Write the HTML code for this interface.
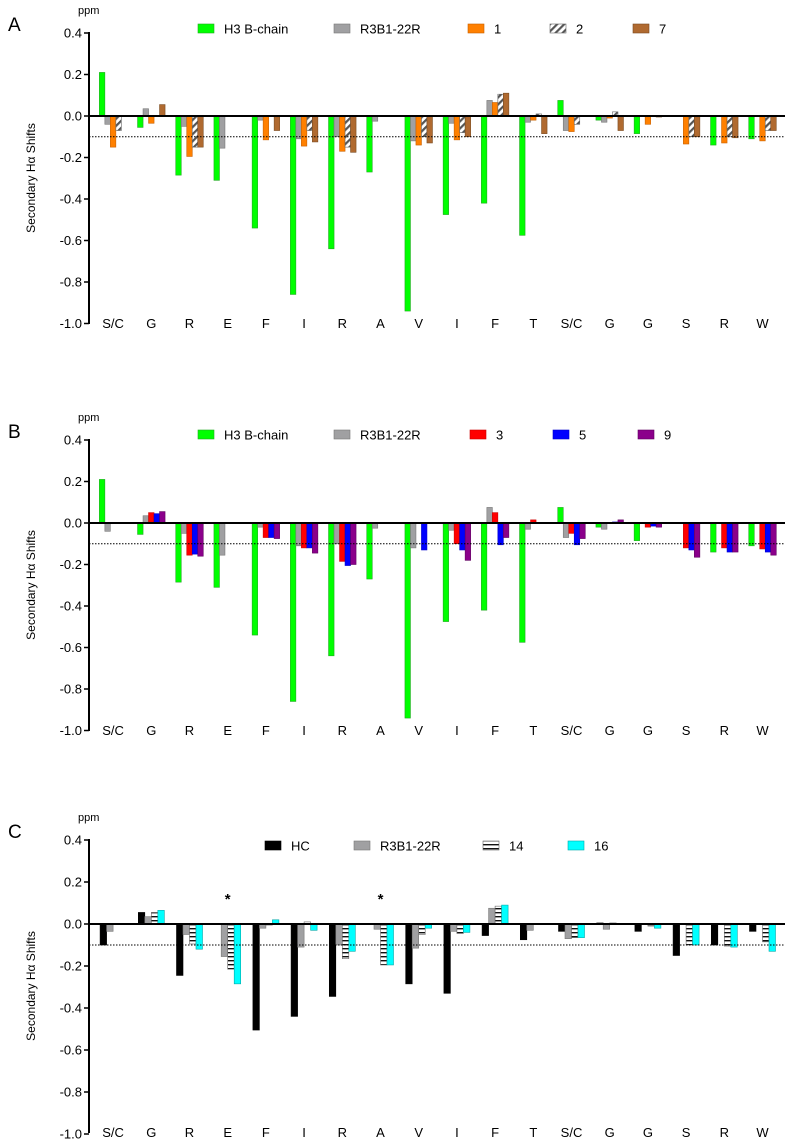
<!DOCTYPE html>
<html><head><meta charset="utf-8">
<style>
html,body{margin:0;padding:0;background:#fff;}
svg{display:block;font-family:"Liberation Sans",Arial,sans-serif;}
</style></head>
<body>
<svg id="chart" width="787" height="1142" viewBox="0 0 787 1142" xmlns="http://www.w3.org/2000/svg">
<defs>
<pattern id="hatchDiag" patternUnits="userSpaceOnUse" width="5" height="5" patternTransform="rotate(45)">
<rect width="5" height="5" fill="#fff"/><rect width="2.2" height="5" fill="#555"/>
</pattern>
<pattern id="hatchHoriz" patternUnits="userSpaceOnUse" width="4" height="4">
<rect width="4" height="4" fill="#fff"/><rect y="0" width="4" height="1.4" fill="#111"/>
</pattern>
</defs>
</svg>
<script>
const categories = ["S/C","G","R","E","F","I","R","A","V","I","F","T","S/C","G","G","S","R","W"];
const tickLabels = ["0.4","0.2","0.0","-0.2","-0.4","-0.6","-0.8","-1.0"];
const tickValues = [0.4,0.2,0,-0.2,-0.4,-0.6,-0.8,-1.0];
const h3Values   = [0.21,-0.055,-0.285,-0.31,-0.54,-0.86,-0.64,-0.27,-0.94,-0.475,-0.42,-0.575,0.075,-0.02,-0.085,0,-0.14,-0.11];
const r3bValues  = [-0.04,0.035,-0.05,-0.155,-0.02,-0.11,-0.1,-0.025,-0.12,-0.035,0.075,-0.03,-0.07,-0.03,0,0,0,0];
const c1Values   = [-0.15,-0.035,-0.195,0,-0.115,-0.145,-0.17,0,-0.14,-0.115,0.065,-0.02,-0.075,-0.01,-0.04,-0.135,-0.13,-0.12];
const c2Values   = [-0.07,0,-0.15,0,0,-0.07,-0.15,0,-0.1,-0.08,0.105,0.01,-0.04,0.02,0,-0.1,-0.1,-0.07];
const c7Values   = [0,0.055,-0.15,0,-0.07,-0.125,-0.175,0,-0.13,-0.1,0.11,-0.085,0,-0.07,-0.005,-0.1,-0.105,-0.07];
const c3Values   = [0,0.05,-0.155,0,-0.07,-0.12,-0.185,0,0,-0.1,0.05,0.015,-0.05,0,-0.02,-0.12,-0.12,-0.125];
const c5Values   = [0,0.045,-0.15,0,-0.07,-0.12,-0.205,0,-0.13,-0.13,-0.105,0,-0.105,0.005,-0.015,-0.13,-0.14,-0.14];
const c9Values   = [0,0.055,-0.16,0,-0.075,-0.145,-0.2,0,0,-0.18,-0.07,0,-0.075,0.015,-0.02,-0.165,-0.14,-0.155];
const hcValues   = [-0.1,0.055,-0.245,0,-0.505,-0.44,-0.345,0,-0.285,-0.33,-0.055,-0.075,-0.035,0.005,-0.035,-0.15,-0.1,-0.035];
const r3bCValues = [-0.035,0.035,-0.05,-0.155,-0.02,-0.11,-0.1,-0.025,-0.115,-0.035,0.075,-0.03,-0.07,-0.025,0,0,0,0];
const c14Values  = [0,0.055,-0.095,-0.215,-0.005,0.01,-0.165,-0.195,-0.05,-0.045,0.085,0,-0.065,0.005,-0.01,-0.1,-0.105,-0.085];
const c16Values  = [0,0.065,-0.12,-0.285,0.02,-0.03,-0.13,-0.195,-0.02,-0.04,0.09,0,-0.065,0,-0.02,-0.1,-0.11,-0.13];
const thresholdValue = -0.1;

const svg = document.getElementById('chart');
const NS = 'http://www.w3.org/2000/svg';
function mk(tag, attrs, parent){const e=document.createElementNS(NS,tag);for(const k in attrs)e.setAttribute(k,attrs[k]);(parent||svg).appendChild(e);return e;}

const panels = [
 {letter:"A", top:33, zero:116, bottom:323, legendY:29, barW:5.5, stars:[],
  series:[
   {name:"H3 B-chain",vals:h3Values,fill:"#00ff00",stroke:"#22aa22",lx:198},
   {name:"R3B1-22R",vals:r3bValues,fill:"#a0a0a2",stroke:"#777",lx:334},
   {name:"1",vals:c1Values,fill:"#ff8000",stroke:"#c86000",lx:468},
   {name:"2",vals:c2Values,fill:"url(#hatchDiag)",stroke:"#666",lx:550},
   {name:"7",vals:c7Values,fill:"#b06a30",stroke:"#7a4a20",lx:633}]},
 {letter:"B", top:440, zero:523, bottom:730, legendY:435, barW:5.5, stars:[],
  series:[
   {name:"H3 B-chain",vals:h3Values,fill:"#00ff00",stroke:"#22aa22",lx:198},
   {name:"R3B1-22R",vals:r3bValues,fill:"#a0a0a2",stroke:"#777",lx:334},
   {name:"3",vals:c3Values,fill:"#ff0000",stroke:"#c00",lx:470},
   {name:"5",vals:c5Values,fill:"#0000ff",stroke:"#00c",lx:553},
   {name:"9",vals:c9Values,fill:"#8b008b",stroke:"#600060",lx:638}]},
 {letter:"C", top:840, zero:924, bottom:1132, legendY:846, barW:6.5, stars:[3,7],
  series:[
   {name:"HC",vals:hcValues,fill:"#000",stroke:"#000",lx:265},
   {name:"R3B1-22R",vals:r3bCValues,fill:"#a0a0a2",stroke:"#777",lx:354},
   {name:"14",vals:c14Values,fill:"url(#hatchHoriz)",stroke:"#666",lx:483},
   {name:"16",vals:c16Values,fill:"#00ffff",stroke:"#00aaaa",lx:568}]}
];

const axisX = 89, rightX = 785, bandStart = 94, bandW = 38.2;
function xCenter(i){return bandStart + bandW*(i+0.5);}

panels.forEach((p,pi)=>{
  const g = mk('g',{});
  
  
  const scale = (p.zero - p.top)/0.4;
  const y = v => p.zero - v*scale;

  const lt = mk('text',{x:8,y:p.top-2,'font-size':19,fill:'#000'},g); lt.textContent=p.letter;
  
  
  const ppm = mk('text',{x:78,y:p.top-19,'font-size':11,fill:'#000'},g); ppm.textContent='ppm';
  
  
  const yt = mk('text',{x:0,y:0,'font-size':12,'text-anchor':'middle',fill:'#000',transform:`translate(35,${(p.top+p.bottom)/2}) rotate(-90)`},g);
  yt.textContent='Secondary Hα Shifts';
  
  

  tickValues.forEach((tv,ti)=>{
    const yy=y(tv);
    mk('line',{x1:axisX-5,x2:axisX,y1:yy,y2:yy,stroke:'#000','stroke-width':1.5},g);
    const t=mk('text',{x:axisX-7,y:yy+4.5,'font-size':13,'text-anchor':'end',fill:'#000'},g);
    t.textContent=tickLabels[ti];
    
    
  });

  const n = p.series.length;
  p.series.forEach((s,si)=>{
    s.vals.forEach((v,ci)=>{
      if(v===0) return;
      const x = xCenter(ci) - n*p.barW/2 + si*p.barW;
      const y0=y(Math.max(v,0)), y1=y(Math.min(v,0));
      const r=mk('rect',{x:x,y:y0,width:p.barW,height:Math.max(y1-y0,0.8),fill:s.fill,stroke:s.stroke,'stroke-width':0.6},g);
      
      
    });
    const sw=mk('rect',{x:s.lx,y:p.legendY-5,width:16,height:9,fill:s.fill,stroke:s.stroke,'stroke-width':0.6},g);
    
    
    const lt2=mk('text',{x:s.lx+26,y:p.legendY+4.5,'font-size':13,fill:'#000'},g);
    lt2.textContent=s.name;
    
    
  });

  const th=mk('line',{x1:axisX,x2:rightX,y1:y(thresholdValue),y2:y(thresholdValue),stroke:'#000','stroke-width':1,'stroke-dasharray':'1.5,1.5'},g);
  
  
  const zl=mk('line',{x1:axisX,x2:rightX,y1:p.zero,y2:p.zero,stroke:'#000','stroke-width':2},g);
  
  
  const ya=mk('line',{x1:axisX,x2:axisX,y1:p.top-1,y2:p.bottom+1,stroke:'#000','stroke-width':2},g);
  
  

  categories.forEach((c,ci)=>{
    const t=mk('text',{x:xCenter(ci),y:p.bottom+5,'font-size':13,'text-anchor':'middle',fill:'#000'},g);
    t.textContent=c;
    
    
  });
  p.stars.forEach(ci=>{
    const st=mk('text',{x:xCenter(ci),y:y(0.2)+22,'font-size':15,'text-anchor':'middle','font-weight':'bold',fill:'#000'},g);
    st.textContent='*';
    
    
  });
});
</script>
</body></html>
